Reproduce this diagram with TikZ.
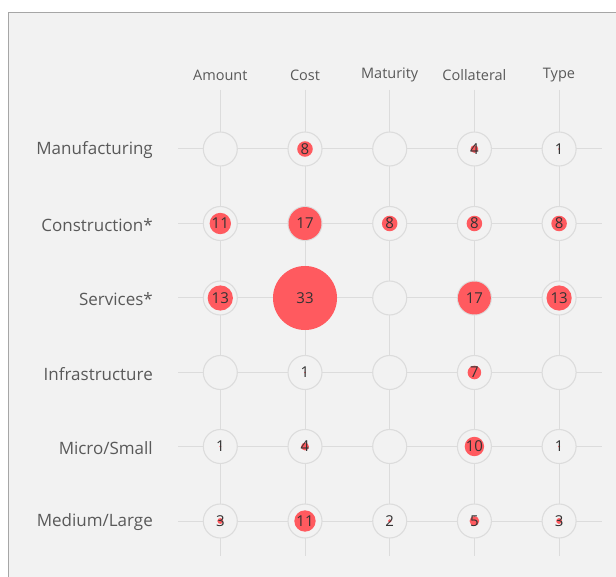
\documentclass[tikz,border=0pt]{standalone}
\usepackage{fontspec}
\setmainfont{Open Sans}
\usetikzlibrary{positioning}

\definecolor{panelbg}{HTML}{F2F2F2}
\definecolor{panelrule}{HTML}{A6A6A6}
\definecolor{gridgray}{HTML}{DCDCDC}
\definecolor{labelgray}{HTML}{595959}
\definecolor{valgray}{HTML}{333333}
\definecolor{bubblered}{HTML}{FF5A5F}

\tikzset{
  rowlabel/.style={anchor=east, text=labelgray, font=\fontsize{17}{19}\selectfont, inner sep=0pt},
  collabel/.style={text=labelgray, font=\fontsize{14.5}{16}\selectfont, inner sep=0pt},
  grid/.style={draw=gridgray, line width=1pt},
  cell/.style={circle, draw=gridgray, line width=1.1pt, fill=panelbg, minimum size=34pt, inner sep=0pt},
  bubble/.style={fill=bubblered},
  val/.style={text=valgray, font=\fontsize{15}{17}\selectfont, inner sep=0pt}
}

\begin{document}
\begin{tikzpicture}[x=1pt,y=-1pt]
    \useasboundingbox (0,0) rectangle (616,577);
    \fill[white] (0,0) rectangle (616,577);
    \fill[panelbg] (8.5,12.5) rectangle (616,577);
    \draw[panelrule, line width=1pt] (8.5,577) -- (8.5,12.5) -- (616,12.5);

    % column headers
    \node[collabel] (amount)     at (220.3,75) {Amount};
    \node[collabel] (cost)       at (305,75)   {Cost};
    \node[collabel] (maturity)   at (389.7,75) {Maturity};
    \node[collabel] (collateral) at (474.4,75) {Collateral};
    \node[collabel] (type)       at (559,75)   {Type};

    % row labels
    \node[rowlabel] (manuf)  at (153,150.5) {Manufacturing};
    \node[rowlabel] (constr) at (153,225)   {Construction*};
    \node[rowlabel] (serv)   at (153,299.5) {Services*};
    \node[rowlabel] (infra)  at (153,374)   {Infrastructure};
    \node[rowlabel] (micro)  at (153,448)   {Micro/Small};
    \node[rowlabel] (medium) at (153,522.5) {Medium/Large};

    % grid line ends
    \coordinate (amount-top)     at (220.3,90);
    \coordinate (cost-top)       at (305,90);
    \coordinate (maturity-top)   at (389.7,90);
    \coordinate (collateral-top) at (474.4,90);
    \coordinate (type-top)       at (559,90);
    \coordinate (amount-bot)     at (220.3,556);
    \coordinate (cost-bot)       at (305,556);
    \coordinate (maturity-bot)   at (389.7,556);
    \coordinate (collateral-bot) at (474.4,556);
    \coordinate (type-bot)       at (559,556);

    \coordinate (manuf-l)  at (178,149);    \coordinate (manuf-r)  at (602,149);
    \coordinate (constr-l) at (178,223.5);  \coordinate (constr-r) at (602,223.5);
    \coordinate (serv-l)   at (178,298);    \coordinate (serv-r)   at (602,298);
    \coordinate (infra-l)  at (178,372.5);  \coordinate (infra-r)  at (602,372.5);
    \coordinate (micro-l)  at (178,446.5);  \coordinate (micro-r)  at (602,446.5);
    \coordinate (medium-l) at (178,521);    \coordinate (medium-r) at (602,521);

    \draw[grid] (amount-top) -- (amount-bot);
    \draw[grid] (cost-top) -- (cost-bot);
    \draw[grid] (maturity-top) -- (maturity-bot);
    \draw[grid] (collateral-top) -- (collateral-bot);
    \draw[grid] (type-top) -- (type-bot);

    \draw[grid] (manuf-l) -- (manuf-r);
    \draw[grid] (constr-l) -- (constr-r);
    \draw[grid] (serv-l) -- (serv-r);
    \draw[grid] (infra-l) -- (infra-r);
    \draw[grid] (micro-l) -- (micro-r);
    \draw[grid] (medium-l) -- (medium-r);

    % cells: ring, bubble (radius ~ count), count
    \foreach \r/\y/\vals in {1/149/{0,8,0,4,1},
                             2/223.5/{11,17,8,8,8},
                             3/298/{13,33,0,17,13},
                             4/372.5/{0,1,0,7,0},
                             5/446.5/{1,4,0,10,1},
                             6/521/{3,11,2,5,3}} {
      \foreach \v [count=\c] in \vals {
        \node[cell] (c\r\c) at ({220.3+84.7*(\c-1)},\y) {};
        \ifnum\v>0
          \fill[bubble] (c\r\c) circle ({0.97*\v});
          \node[val] at (c\r\c) {\v};
        \fi
      }
    }
\end{tikzpicture}
\end{document}
